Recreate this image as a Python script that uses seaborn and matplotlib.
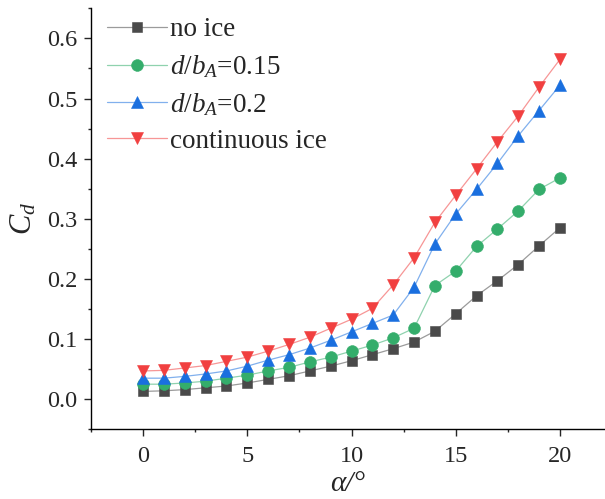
import numpy as np
import pandas as pd
import matplotlib
matplotlib.use("Agg")
import matplotlib.pyplot as plt
from matplotlib.ticker import MultipleLocator, FormatStrFormatter
from matplotlib.colors import to_rgb
import seaborn as sns

alpha = list(range(0, 21))
no_ice = [0.013, 0.014, 0.016, 0.019, 0.022, 0.027, 0.033, 0.039, 0.047, 0.055, 0.064,
          0.074, 0.084, 0.095, 0.113, 0.142, 0.172, 0.197, 0.224, 0.255, 0.285]
d015 = [0.025, 0.025, 0.027, 0.030, 0.035, 0.040, 0.047, 0.053, 0.062, 0.070, 0.080,
        0.090, 0.102, 0.118, 0.189, 0.213, 0.254, 0.283, 0.313, 0.349, 0.368]
d02 = [0.035, 0.035, 0.038, 0.042, 0.047, 0.055, 0.065, 0.074, 0.085, 0.098, 0.112,
       0.126, 0.140, 0.186, 0.258, 0.308, 0.349, 0.392, 0.438, 0.480, 0.522]
cont = [0.047, 0.048, 0.052, 0.056, 0.063, 0.070, 0.080, 0.091, 0.103, 0.118, 0.133,
        0.151, 0.190, 0.235, 0.294, 0.339, 0.383, 0.428, 0.471, 0.519, 0.565]
labels = ["no ice", r"$d/b_A$=0.15", r"$d/b_A$=0.2", "continuous ice"]
series = [no_ice, d015, d02, cont]
colors = ["#4a4a4a", "#34ad6b", "#1a6fdf", "#f14040"]
markers = ["s", "o", "^", "v"]
msizes = [7.5, 8.5, 9, 9]


def lighten(c, f=0.45):
    r, g, b = to_rgb(c)
    return (r + (1 - r) * f, g + (1 - g) * f, b + (1 - b) * f)


sns.set_style("ticks")
plt.rcParams["font.family"] = ["Liberation Serif", "DejaVu Serif"]
plt.rcParams["mathtext.fontset"] = "custom"
plt.rcParams["mathtext.rm"] = "Liberation Serif"
plt.rcParams["mathtext.it"] = "Liberation Serif:italic"

fig = plt.figure(figsize=(6.05, 4.99), dpi=100)
ax = fig.add_axes([91/605, (499-429.3)/499, (612-91)/605, (429.3-8.3)/499])

for lab, ys, c, m, ms in zip(labels, series, colors, markers, msizes):
    df = pd.DataFrame({"alpha": alpha, "Cd": ys})
    sns.lineplot(data=df, x="alpha", y="Cd", ax=ax, color=lighten(c), linewidth=0.9,
                 marker=m, markersize=ms, markerfacecolor=c, markeredgecolor=c,
                 markeredgewidth=0.4, label=lab)

ax.set_xlim(-2.5, 22.5)
ax.set_ylim(-0.05, 0.65)
ax.xaxis.set_major_locator(MultipleLocator(5))
ax.xaxis.set_minor_locator(MultipleLocator(2.5))
ax.yaxis.set_major_locator(MultipleLocator(0.1))
ax.yaxis.set_minor_locator(MultipleLocator(0.05))
ax.yaxis.set_major_formatter(FormatStrFormatter("%.1f"))
ax.tick_params(which="major", direction="out", length=5, width=1.0, labelsize=17.5, pad=5)
ax.tick_params(which="minor", direction="out", length=2.5, width=1.0)
ax.tick_params(axis="x", which="major", pad=7)
for s in ["top", "right"]:
    ax.spines[s].set_visible(False)
for s in ["left", "bottom"]:
    ax.spines[s].set_linewidth(1.0)
    ax.spines[s].set_color("black")

ax.set_xlabel("α/°", fontsize=21, fontstyle="italic")
ax.set_ylabel(r"$C_d$", fontsize=22, labelpad=6)
ax.xaxis.set_label_coords((348-91)/(612-91), -0.1)

leg = ax.legend(loc="upper left", bbox_to_anchor=(102/605, 1 - 12/499),
                bbox_transform=fig.transFigure, frameon=False, fontsize=19.5,
                handlelength=2.2, handletextpad=0.12, labelspacing=0.4,
                borderaxespad=0, borderpad=0.2)

fig.savefig("out.png", dpi=100)
